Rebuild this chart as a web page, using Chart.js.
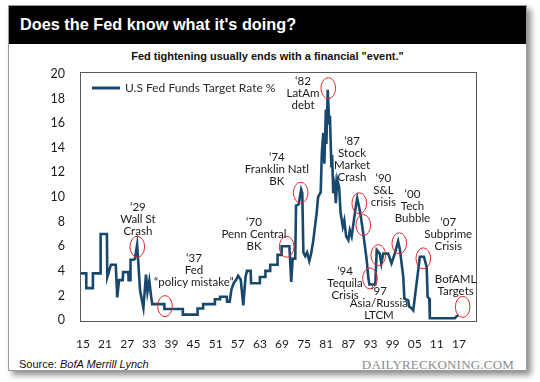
<!DOCTYPE html>
<html>
<head>
<meta charset="utf-8">
<script src="https://cdn.jsdelivr.net/npm/chart.js@4/dist/chart.umd.min.js"></script>
<style>
  html, body { margin: 0; padding: 0; width: 540px; height: 382px; background: #fff; overflow: hidden; }
  #card { position: absolute; left: 8px; top: 5px; width: 517px; height: 364px; border: 1px solid #9a9a9a;
          background: #fff; box-shadow: 4px 4px 6px rgba(0,0,0,0.45); }
  #head { position: absolute; left: 0; top: 0; width: 517px; height: 38px; background: #000; }
  #head span { position: absolute; left: 11px; top: 9px; color: #fff; font: bold 16.3px "Liberation Sans", Arial, sans-serif; }
  #sub { position: absolute; left: 0; top: 44px; width: 517px; text-align: center; font: bold 11px "Liberation Sans", Arial, sans-serif; color: #111; }
  #src { position: absolute; left: 10px; top: 352px; font: 11px "Liberation Sans", Arial, sans-serif; color: #111; }
  #brand { position: absolute; right: 12px; top: 351px; font: 13px "Liberation Serif", serif; color: #8a8a8a; letter-spacing: 0.2px; }
  canvas { position: absolute; left: 0; top: 0; }
</style>
</head>
<body>
<div id="card">
  <div id="head"><span>Does the Fed know what it's doing?</span></div>
  <div id="sub">Fed tightening usually ends with a financial "event."</div>
  <div id="src">Source: <i>BofA Merrill Lynch</i></div>
  <div id="brand">DAILYRECKONING.COM</div>
</div>
<canvas id="chart" width="540" height="382"></canvas>
<script>
// Fed funds target rate (year, %)
const years = [
  1914.2, 1915.9, 1915.9, 1917.7, 1917.7, 1919.8, 1919.8, 1921.5, 1921.6, 1922.6,
  1923.9, 1924.3, 1924.8, 1925.8, 1925.9, 1927.3, 1927.4, 1927.8, 1927.9, 1928.8,
  1929.1, 1929.7, 1930.5, 1931.4, 1932.1, 1932.5, 1933.0, 1933.5, 1933.8, 1937.1,
  1937.1, 1942.1, 1942.1, 1946.1, 1946.1, 1947.6, 1947.6, 1950.8, 1950.8, 1952.2,
  1952.2, 1954.0, 1954.1, 1954.8, 1955.3, 1955.9, 1956.6, 1957.1, 1957.8, 1958.5,
  1959.1, 1959.5, 1960.5, 1960.6, 1963.0, 1963.0, 1964.5, 1964.5, 1965.8, 1965.8,
  1967.8, 1967.8, 1968.9, 1968.9, 1971.0, 1971.5, 1971.9, 1972.6, 1972.8, 1973.5,
  1974.2, 1974.5, 1974.8, 1975.3, 1975.8, 1976.4, 1976.9, 1977.5, 1978.4, 1978.8,
  1979.5, 1979.8, 1980.2, 1980.5, 1980.9, 1981.05, 1981.4, 1981.8, 1982.0, 1982.4,
  1982.6, 1982.9, 1983.3, 1983.6, 1984.0, 1984.5, 1984.9, 1985.5, 1985.9, 1986.4,
  1987.0, 1987.4, 1987.9, 1988.5, 1989.1, 1989.4, 1989.9, 1990.4, 1991.05, 1991.5,
  1991.97, 1992.4, 1992.7, 1994.3, 1994.7, 1995.5, 1995.95, 1996.45, 1997.8, 1998.7,
  1999.6, 2000.5, 2001.0, 2001.9, 2002.2, 2003.25, 2003.5, 2004.2, 2004.6, 2006.4,
  2007.5, 2008.25, 2008.5, 2008.95, 2009.1, 2015.9, 2016.3, 2016.9
];
const rates = [
  3.8, 3.8, 2.6, 2.6, 3.8, 3.8, 7.0, 7.0, 3.5, 4.5,
  4.5, 1.85, 3.25, 3.25, 3.9, 3.9, 3.25, 3.25, 4.9, 4.9,
  5.0, 6.1, 2.4, 1.0, 3.7, 2.3, 3.2, 1.9, 1.3, 1.3,
  0.9, 0.9, 0.45, 0.45, 0.95, 0.95, 1.3, 1.3, 1.7, 1.7,
  1.9, 1.9, 1.5, 1.5, 2.5, 3.0, 3.3, 3.6, 3.3, 1.2,
  3.5, 4.0, 4.0, 3.0, 3.0, 3.5, 3.5, 4.0, 4.0, 4.5,
  4.5, 5.3, 5.3, 6.0, 6.0, 3.1, 5.0, 5.0, 9.3, 9.4,
  10.6, 10.3, 5.5, 5.2, 5.5, 4.8, 5.4, 6.5, 8.7, 10.0,
  10.4, 13.5, 15.2, 12.7, 17.1, 14.3, 18.7, 16.0, 16.6, 12.4,
  13.4, 10.3, 11.0, 9.5, 11.4, 10.8, 8.7, 7.6, 8.1, 6.8,
  6.5, 7.3, 6.8, 8.1, 9.4, 9.9, 9.2, 8.4, 7.0, 6.0,
  4.9, 3.5, 2.9, 2.9, 5.7, 5.4, 4.6, 5.4, 5.4, 4.6,
  5.4, 6.4, 5.7, 3.5, 1.75, 1.6, 1.1, 0.95, 0.8, 5.15,
  5.15, 4.3, 1.9, 1.75, 0.15, 0.15, 0.3, 0.4
];

const tickYears = [1915, 1921, 1927, 1933, 1939, 1945, 1951, 1957, 1963, 1969, 1975, 1981, 1987, 1993, 1999, 2005, 2011, 2017];
const rateTicks = [0, 2, 4, 6, 8, 10, 12, 14, 16, 18, 20];

// red ellipses marking the "events"
const eventYears = [1929.74, 1937.25, 1970.27, 1974.07, 1981.55, 1989.96, 1991.05, 1992.87, 1995.12, 2000.81, 2007.33, 2018.02];
const eventRates = [5.96, 1.14, 5.96, 10.35, 18.84, 9.49, 7.72, 3.39, 5.28, 6.24, 5.02, 1.08];

// annotation text, anchored at the middle of the first line
const noteLines = [
  ["\u201829", "Wall St", "Crash"],
  ["\u201837", "Fed", "\u201cpolicy mistake\u201d"],
  ["\u201870", "Penn Central", "BK"],
  ["\u201874", "Franklin Natl", "BK"],
  ["\u201882", "LatAm", "debt"],
  ["\u201887", "Stock", "Market", "Crash"],
  ["\u201890", "S&L", "crisis"],
  ["\u201800", "Tech", "Bubble"],
  ["\u201807", "Subprime", "Crisis"],
  ["BofAML", "Targets"],
  ["\u201894", "Tequila", "Crisis"],
  ["\u201897", "Asia/Russia", "LTCM"]
];
const noteYears = [1929.9, 1945.1, 1961.4, 1967.6, 1974.7, 1988.0, 1996.5, 2004.4, 2014.1, 2016.1, 1986.1, 1995.3];
const noteRates = [9.19, 5.02, 7.97, 13.25, 19.43, 14.55, 11.54, 10.24, 7.97, 3.31, 3.98, 2.36];

const lineColor = "#18496d";

const extras = {
  id: "extras",
  afterDatasetsDraw(chart) {
    const { ctx, chartArea: a, scales: { x, y } } = chart;
    ctx.save();
    // box
    ctx.strokeStyle = "#5a5a5a";
    ctx.lineWidth = 1;
    ctx.strokeRect(a.left + 0.5, a.top + 0.5, a.right - a.left - 1, a.bottom - a.top - 1);

    // event ellipses
    ctx.strokeStyle = "#e3262b";
    ctx.lineWidth = 1;
    eventYears.forEach((yr, i) => {
      ctx.beginPath();
      ctx.ellipse(x.getPixelForValue(yr), y.getPixelForValue(eventRates[i]), 7.3, 10.5, 0, 0, Math.PI * 2);
      ctx.stroke();
    });

    // notes
    ctx.fillStyle = "#1a1a1a";
    ctx.font = "11.5px Lato";
    ctx.textAlign = "center";
    ctx.textBaseline = "middle";
    noteLines.forEach((lines, i) => {
      const px = x.getPixelForValue(noteYears[i]);
      const py = y.getPixelForValue(noteRates[i]);
      lines.forEach((t, j) => ctx.fillText(t, px, py + j * 12));
    });

    // legend
    const ds = chart.data.datasets[0];
    ctx.strokeStyle = ds.borderColor;
    ctx.lineWidth = 3;
    ctx.beginPath();
    ctx.moveTo(a.left + 12, a.top + 16);
    ctx.lineTo(a.left + 40, a.top + 16);
    ctx.stroke();
    ctx.fillStyle = "#2a2a2a";
    ctx.font = "12px Lato";
    ctx.textAlign = "left";
    ctx.fillText(ds.label, a.left + 45, a.top + 16);
    ctx.restore();
  }
};

new Chart(document.getElementById("chart"), {
  type: "line",
  data: {
    datasets: [{
      label: "U.S Fed Funds Target Rate %",
      data: years.map((yr, i) => ({ x: yr, y: rates[i] })),
      borderColor: lineColor,
      borderWidth: 2.6,
      pointRadius: 0,
      tension: 0,
      fill: false
    }]
  },
  options: {
    responsive: false,
    animation: false,
    devicePixelRatio: 1,
    layout: { padding: { top: 72, right: 63, left: 0, bottom: 0 } },
    plugins: { legend: { display: false }, tooltip: { enabled: false } },
    scales: {
      x: {
        type: "linear",
        min: 1914.2,
        max: 2021.9,
        afterBuildTicks: (axis) => { axis.ticks = tickYears.map(v => ({ value: v })); },
        afterFit: (axis) => { axis.height = 60; },
        grid: { display: false, drawTicks: false },
        border: { display: false },
        ticks: {
          autoSkip: false,
          maxRotation: 0,
          padding: 15,
          color: "#1a1a1a",
          font: { family: "Lato", size: 12 },
          callback: (v) => String(v).slice(2)
        }
      },
      y: {
        min: -0.15,
        max: 20.15,
        afterBuildTicks: (axis) => { axis.ticks = rateTicks.map(v => ({ value: v })); },
        afterFit: (axis) => { axis.width = 80; },
        grid: { display: false, drawTicks: false },
        border: { display: false },
        ticks: {
          padding: 15,
          color: "#1a1a1a",
          font: { family: "Lato", size: 12.5 }
        }
      }
    }
  },
  plugins: [extras]
});
</script>
</body>
</html>
